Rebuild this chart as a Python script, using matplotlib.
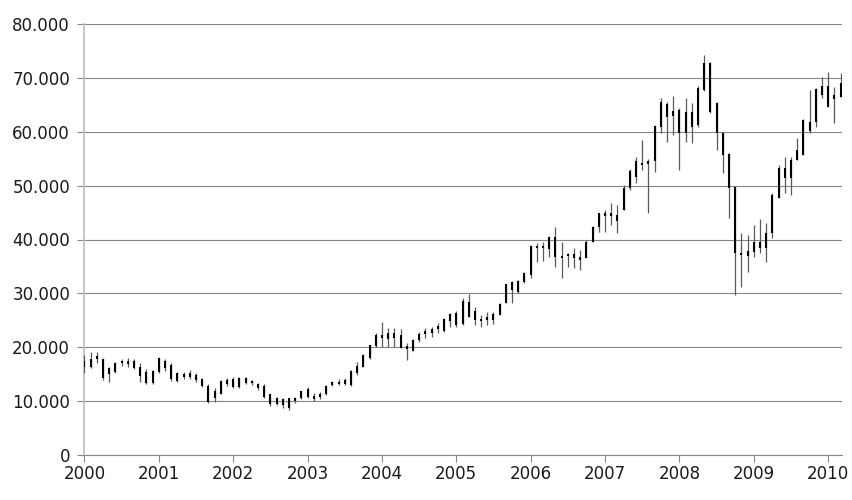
import numpy as np
import matplotlib
matplotlib.use('Agg')
import matplotlib.pyplot as plt
from matplotlib.ticker import FuncFormatter, MultipleLocator

plt.rcParams['font.family'] = ['Liberation Sans Narrow', 'DejaVu Sans']

# monthly OHLC, Jan 2000 - Mar 2010 (index points)
open_ = [17400, 16400, 17900, 17800, 15000, 15400, 17100, 17400, 17400, 16300, 15400, 13300,
         15400, 17500, 16700, 13800, 15000, 14500, 14900, 14100, 12900, 10600, 11400, 13200,
         14100, 12700, 14300, 13400, 13100, 12900, 11300, 9500, 10400, 8700, 10000, 10600,
         12300, 11000, 10700, 11300, 13000, 13500, 13200, 13000, 15300, 16300, 18000, 20200,
         22300, 21500, 21700, 22200, 19600, 19300, 21300, 22500, 22700, 23400, 23000, 24900,
         26400, 24300, 28400, 26700, 24800, 25700, 25000, 26000, 28200, 32100, 30200, 32100,
         33400, 38800, 38400, 38300, 40500, 36600, 37000, 37300, 36800, 36600, 39600, 42300,
         44900, 44900, 43400, 45500, 49500, 51600, 54200, 54000, 54600, 60800, 65200, 62900,
         64100, 59800, 63700, 61300, 67800, 72800, 65400, 59800, 55900, 49800, 37200, 37000,
         37700, 39600, 38500, 41200, 47700, 53300, 51500, 54800, 55700, 61900, 61900, 66900,
         68500, 66000, 66500]
high = [18600, 19100, 19100, 18000, 16300, 17300, 17800, 18000, 17800, 17100, 16000, 15800,
        18200, 17800, 17100, 15400, 15400, 15800, 15200, 14300, 13200, 12400, 13900, 14300,
        14500, 14500, 14500, 13900, 13400, 13200, 11300, 10800, 10600, 10600, 10800, 11900,
        12600, 11500, 11700, 13000, 13700, 14100, 14300, 15800, 17300, 18800, 20400, 22700,
        24700, 23600, 23600, 23400, 20800, 21500, 22800, 23600, 23800, 24500, 25400, 26400,
        26700, 29200, 29900, 27500, 26000, 26600, 26600, 28200, 31800, 32300, 32500, 34000,
        39000, 39400, 39600, 40700, 42300, 39600, 37500, 38400, 38100, 39900, 42500, 44900,
        45500, 46800, 46400, 50100, 53100, 55300, 58500, 55000, 61300, 66300, 65600, 66700,
        64500, 66300, 65400, 68400, 74300, 72900, 65500, 59900, 56000, 49900, 41200, 40900,
        42700, 43800, 43100, 48700, 53900, 55300, 55300, 58900, 62300, 67800, 68200, 70200,
        71100, 68300, 70900]
low = [15200, 16200, 17100, 13900, 13600, 15200, 16500, 16300, 16000, 13600, 13200, 13200,
       15200, 15600, 13700, 13600, 14100, 14100, 13600, 12600, 9700, 9800, 11300, 12800,
       12400, 12400, 13200, 13000, 12100, 10600, 9100, 9300, 8700, 8300, 9700, 10400,
       10600, 10000, 10400, 11100, 12800, 13000, 13000, 12800, 14900, 16300, 17800, 20100,
       20100, 20100, 20100, 19900, 17600, 19300, 21000, 21700, 21900, 22700, 22800, 23800,
       23800, 24100, 25600, 24100, 23800, 24100, 24300, 26000, 28200, 28200, 30100, 31900,
       32900, 35800, 36000, 36800, 34900, 32900, 34900, 34700, 34400, 36600, 39600, 41400,
       41400, 42700, 41200, 45500, 49200, 50500, 52900, 44900, 52600, 59800, 58100, 59400,
       52900, 58100, 57900, 60800, 67500, 63500, 56600, 52400, 44000, 29700, 31200, 34000,
       36800, 37500, 35800, 40300, 47700, 48700, 48300, 54800, 55700, 59800, 60900, 66300,
       64600, 61700, 66500]
close = [16400, 17900, 18400, 14300, 16100, 17000, 17400, 16800, 16200, 14700, 13300, 15600,
         18000, 16200, 14100, 15200, 14500, 15200, 14000, 12800, 9900, 11800, 13800, 14000,
         12700, 14300, 13400, 13700, 12400, 10800, 9500, 10600, 9300, 10500, 10600, 11800,
         10800, 10400, 11300, 12800, 13500, 13200, 13900, 15600, 16600, 18600, 20400, 22300,
         21700, 22700, 22600, 19900, 20200, 21400, 22400, 23000, 23400, 24000, 25300, 26200,
         24200, 28500, 25600, 25100, 25200, 25100, 26200, 28100, 31800, 30600, 32300, 33700,
         38800, 38400, 38800, 40500, 36800, 37000, 37300, 36600, 36200, 39600, 42300, 44900,
         44300, 44300, 44600, 49500, 52700, 54600, 53800, 54600, 61100, 65600, 62700, 63800,
         59800, 63700, 60800, 68200, 72800, 63700, 59800, 55700, 49600, 37500, 37500, 37800,
         39600, 38500, 41200, 48300, 53200, 51500, 54800, 56700, 62200, 60200, 68000, 68500,
         64600, 66900, 69000]

x = 2000 + np.arange(len(close)) / 12.0
body_lo = np.minimum(open_, close)
body_hi = np.maximum(open_, close)

fig = plt.figure(figsize=(8.52, 5.0), dpi=100)
ax = fig.add_axes([84 / 852, 45 / 500, 758 / 852, 431 / 500])

ax.vlines(x, low, high, color='#5a5a5a', lw=0.9, zorder=3)
ax.vlines(x, body_lo, body_hi, color='black', lw=1.5, zorder=4)

ax.set_xlim(1999.995, 2010.185)
ax.set_ylim(0, 80000)
ax.yaxis.set_major_locator(MultipleLocator(10000))
ax.xaxis.set_major_locator(MultipleLocator(1))
ax.yaxis.set_major_formatter(FuncFormatter(lambda v, p: f"{int(v):,}".replace(',', '.')))
ax.xaxis.set_major_formatter(FuncFormatter(lambda v, p: f"{int(round(v))}"))

ax.grid(axis='y', color='#868686', lw=0.8)
ax.set_axisbelow(True)
for s in ['top', 'right']:
    ax.spines[s].set_visible(False)
ax.spines['left'].set_color('#bdbdbd')
ax.spines['left'].set_linewidth(1.2)
ax.spines['bottom'].set_color('#868686')
ax.spines['bottom'].set_linewidth(0.8)

ax.tick_params(axis='y', length=5, width=0.8, color='#868686', pad=5,
               labelsize=12, labelcolor='#1a1a1a')
ax.tick_params(axis='x', length=5, width=0.8, color='#868686', pad=2,
               labelsize=12, labelcolor='#1a1a1a')

fig.savefig('out.png', dpi=100)
